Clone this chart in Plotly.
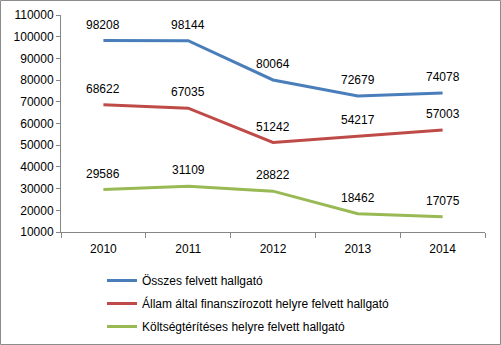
import plotly.graph_objects as go

years = ["2010", "2011", "2012", "2013", "2014"]
osszes = [98208, 98144, 80064, 72679, 74078]
allam = [68622, 67035, 51242, 54217, 57003]
koltseg = [29586, 31109, 28822, 18462, 17075]
names = ["Összes felvett hallgató",
         "Állam által finanszírozott helyre felvett hallgató",
         "Költségtérítéses helyre felvett hallgató"]
colors = ["#4a7ebb", "#be4b48", "#98b954"]
series = [osszes, allam, koltseg]

W, H = 501, 345
ml, mr, mt, mb = 61, 16, 15, 113
pw, ph = W - ml - mr, H - mt - mb
FONT = "Liberation Sans"

fig = go.Figure()
annotations = []
for i, (nm, vals, c) in enumerate(zip(names, series, colors)):
    fig.add_trace(go.Scatter(x=years, y=vals, name=nm, mode="lines",
                             line=dict(color=c, width=3), legendgroup=f"g{i}"))
    for j, v in enumerate(vals):
        annotations.append(dict(x=j, y=v, xref="x", yref="y", text=str(v), showarrow=False,
                                yshift=16, font=dict(size=12, color="#000000", family=FONT)))

fig.update_layout(
    width=W, height=H,
    margin=dict(l=ml, r=mr, t=mt, b=mb, autoexpand=False),
    paper_bgcolor="white", plot_bgcolor="white",
    font=dict(family=FONT, size=12, color="#000000"),
    annotations=annotations,
    showlegend=True,
    legend=dict(x=(102 - ml) / pw, xanchor="left", y=-(266 - (H - mb)) / ph, yanchor="top",
                orientation="v", traceorder="grouped", tracegroupgap=4,
                font=dict(size=12, family=FONT), bgcolor="rgba(0,0,0,0)",
                itemwidth=30),
    shapes=[dict(type="rect", xref="paper", yref="paper",
                 x0=-(ml - 0.5) / pw, x1=1 + (mr - 0.5) / pw,
                 y0=-(mb - 0.5) / ph, y1=1 + (mt - 0.5) / ph,
                 line=dict(color="#8c8c8c", width=1))],
)
fig.update_xaxes(type="category", range=[-0.5, 4.5], showline=True, linecolor="#868686",
                 linewidth=1, ticks="outside", tickson="boundaries", ticklen=5,
                 tickcolor="#868686", showgrid=False, tickfont=dict(size=12),
                 ticklabelstandoff=6)
fig.update_yaxes(range=[10000, 110000], dtick=10000, tick0=10000, showline=True,
                 linecolor="#868686", linewidth=1, ticks="outside", ticklen=4,
                 tickcolor="#868686", showgrid=False, zeroline=False,
                 tickfont=dict(size=12), tickformat="d")

fig.write_html("out.html")
